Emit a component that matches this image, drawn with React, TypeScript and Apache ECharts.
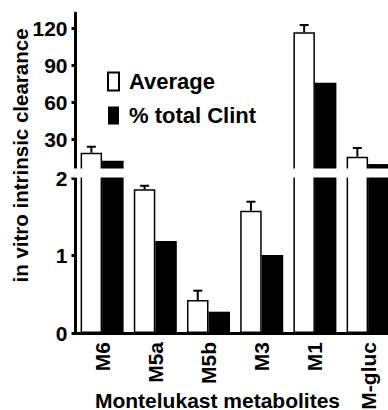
import React, { useEffect, useRef } from "react";
import * as echarts from "echarts";

const categories = ["M6", "M5a", "M5b", "M3", "M1", "M-gluc"];
const average = [18.8, 1.854, 0.426, 1.578, 116.9, 15.6];
const averageErr = [4.9, 0.046, 0.12, 0.116, 5.9, 7.1];
const totalClint = [12.3, 1.187, 0.275, 1.006, 75.9, 9.6];
const topTicks = [30, 60, 90, 120];
const bottomTicks = [0, 1, 2];
const topRange = [6.4, 132.6];
const bottomRange = [0, 2];

const FONT = "'Liberation Sans', Arial, Helvetica, sans-serif";
const BAR_W = 21.5;
const TOP_BASE = 2.3; // bar start of the upper segment, hidden inside the break
const BOTTOM_CAP = 2.065; // bar end of the lower segment, hidden inside the break

export default function App() {
  const ref = useRef<HTMLDivElement>(null);
  useEffect(() => {
    if (!ref.current) return;
    const chart = echarts.init(ref.current, null, { renderer: "svg" });

    const topVals = (arr: number[]) => arr.map((v) => (v > topRange[0] ? v : null));
    const botVals = (arr: number[]) => arr.map((v) => Math.min(v, BOTTOM_CAP));

    const errData = (inTop: boolean) =>
      average
        .map((v, i) => [i, v, averageErr[i]])
        .filter((d) => (inTop ? d[1] > topRange[0] : d[1] + d[2] <= bottomRange[1]));

    const errRender = (params: any, api: any) => {
      const x = api.value(0);
      const y = api.value(1);
      const e = api.value(2);
      const base = api.coord([x, y]);
      const top = api.coord([x, y + e]);
      const cx = base[0] - BAR_W / 2;
      return {
        type: "group",
        children: [
          { type: "line", shape: { x1: cx, y1: base[1], x2: cx, y2: top[1] }, style: { stroke: "#000", lineWidth: 2 } },
          { type: "line", shape: { x1: cx - 4.5, y1: top[1], x2: cx + 4.5, y2: top[1] }, style: { stroke: "#000", lineWidth: 2 } },
        ],
      };
    };

    const gridBase = { left: 75.5, width: 319.2, height: 155, outerBoundsMode: "none", containLabel: false };
    const labelStyle = { fontFamily: FONT, fontWeight: "bold", fontSize: 21, color: "#000" };

    const whiteStyle = { color: "#fff", borderColor: "#000", borderWidth: 1.5 };
    const blackStyle = { color: "#000" };

    chart.setOption({
      animation: false,
      backgroundColor: "#fff",
      grid: [
        { ...gridBase, top: 13 },
        { ...gridBase, top: 178 },
      ],
      xAxis: [
        { type: "category", gridIndex: 0, data: categories, show: false },
        {
          type: "category",
          gridIndex: 1,
          data: categories,
          axisLine: { lineStyle: { color: "#000", width: 3 } },
          axisTick: { alignWithLabel: true, length: 5, lineStyle: { color: "#000", width: 2.5 } },
          axisLabel: { ...labelStyle, rotate: 90, margin: 9, interval: 0, hideOverlap: false },
        },
      ],
      yAxis: [
        {
          type: "value",
          gridIndex: 0,
          min: topRange[0],
          max: topRange[1],
          startValue: TOP_BASE,
          splitLine: { show: false },
          axisLine: { show: true, lineStyle: { color: "#000", width: 3 } },
          axisTick: { show: true, length: 4, customValues: topTicks, lineStyle: { color: "#000", width: 3 } },
          axisLabel: { ...labelStyle, margin: 8, customValues: topTicks },
        },
        {
          type: "value",
          gridIndex: 1,
          min: bottomRange[0],
          max: bottomRange[1],
          interval: 1,
          splitLine: { show: false },
          axisLine: { show: true, lineStyle: { color: "#000", width: 3 } },
          axisTick: { show: true, length: 4, customValues: bottomTicks, lineStyle: { color: "#000", width: 3 } },
          axisLabel: { ...labelStyle, margin: 8, customValues: bottomTicks },
        },
      ],
      legend: {
        data: ["Average", "% total Clint"],
        orient: "vertical",
        left: 107,
        top: 70.5,
        padding: 0,
        itemWidth: 11,
        itemHeight: 18,
        itemGap: 12,
        icon: "rect",
        textStyle: { ...labelStyle, fontSize: 22, padding: [0, 0, 0, 5] },
      },
      series: [
        {
          type: "bar", name: "Average", xAxisIndex: 0, yAxisIndex: 0,
          data: topVals(average), barWidth: BAR_W, barGap: "0%", clip: false, itemStyle: whiteStyle,
        },
        {
          type: "bar", name: "% total Clint", xAxisIndex: 0, yAxisIndex: 0,
          data: topVals(totalClint), barWidth: BAR_W, barGap: "0%", clip: false, itemStyle: blackStyle,
        },
        {
          type: "bar", name: "Average", xAxisIndex: 1, yAxisIndex: 1,
          data: botVals(average), barWidth: BAR_W, barGap: "0%", clip: false, itemStyle: whiteStyle,
        },
        {
          type: "bar", name: "% total Clint", xAxisIndex: 1, yAxisIndex: 1,
          data: botVals(totalClint), barWidth: BAR_W, barGap: "0%", clip: false, itemStyle: blackStyle,
        },
        {
          type: "custom", name: "errTop", xAxisIndex: 0, yAxisIndex: 0, z: 5,
          data: errData(true), encode: { x: 0, y: 1 }, renderItem: errRender,
        },
        {
          type: "custom", name: "errBottom", xAxisIndex: 1, yAxisIndex: 1, z: 5,
          data: errData(false), encode: { x: 0, y: 1 }, renderItem: errRender,
        },
      ],
      graphic: [
        {
          type: "rect",
          z: 100,
          shape: { x: 72, y: 168.5, width: 340, height: 9 },
          style: { fill: "#fff" },
        },
        {
          type: "text",
          x: 20.5,
          y: 155.5,
          rotation: Math.PI / 2,
          style: {
            text: "in vitro intrinsic clearance",
            fontFamily: FONT,
            fontWeight: "bold",
            fontSize: 20.5,
            fill: "#000",
            align: "center",
            verticalAlign: "middle",
          },
        },
        {
          type: "text",
          x: 217.5,
          y: 400,
          z: 10,
          style: {
            text: "Montelukast metabolites",
            fontFamily: FONT,
            fontWeight: "bold",
            fontSize: 21,
            fill: "#000",
            align: "center",
            verticalAlign: "middle",
          },
        },
      ],
    });
    return () => chart.dispose();
  }, []);

  return (
    <div style={{ position: "fixed", left: 0, top: 0, width: 388, height: 410, overflow: "hidden", background: "#fff" }}>
      <div ref={ref} style={{ width: 400, height: 440 }} />
    </div>
  );
}
